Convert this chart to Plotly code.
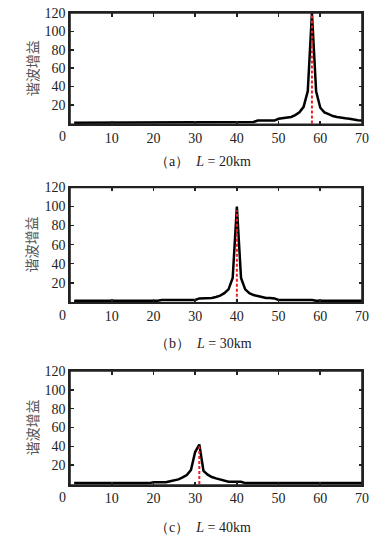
import plotly.graph_objects as go

# ---------------- data ----------------
harmonic_order = list(range(1, 71))

gain_20km = ([0.8] * 34 + [1.5] * 10 + [3.0] * 5 +
             [5.0, 5.5, 6.0, 7.0, 9.0, 12.0, 18.0, 35.0, 120.0, 35.0,
              17.0, 12.0, 10.0, 8.0, 7.0, 6.0, 5.5, 5.0, 4.0, 3.5, 3.0])

gain_30km = ([1.0] * 21 + [1.8] * 9 +
             [3.5, 3.5, 3.5, 4.0, 5.0, 6.5, 9.0, 13.0, 25.0, 100.0,
              25.0, 13.0, 9.0, 7.0, 6.0, 5.0, 4.0, 4.0, 3.5] +
             [1.8] * 9 + [1.0] * 12)

gain_40km = ([1.0] * 19 + [2.0] * 4 +
             [3.0, 4.0, 5.0, 7.0, 9.5, 15.0, 34.0, 42.0, 14.0, 10.0,
              7.5, 6.0, 5.0, 3.5, 2.5, 2.5, 2.5, 2.5] +
             [1.0] * 29)

peak_order = [58, 40, 31]
peak_gain = [120, 96, 40]

captions = ["（a）  <i>L</i> = 20km", "（b）  <i>L</i> = 30km", "（c）  <i>L</i> = 40km"]
y_title = "谐波增益"
x_tick_vals = [10, 20, 30, 40, 50, 60, 70]
y_tick_vals = [20, 40, 60, 80, 100, 120]

series = [gain_20km, gain_30km, gain_40km]

# ---------------- layout helpers ----------------
W, H = 392, 541
x_dom = [70 / W, 362 / W]
panels_px = [(13, 124.3), (187.5, 302.7), (371, 485)]
caption_y_px = [161, 343, 527]

SERIF = "Liberation Serif"
CJK = "Noto Sans CJK SC"
FRAME = "#222222"

fig = go.Figure()
layout = dict(
    width=W, height=H, autosize=False,
    margin=dict(l=0, r=0, t=0, b=0, pad=0),
    paper_bgcolor="white", plot_bgcolor="white",
    showlegend=False,
    font=dict(family=SERIF, size=14, color="#222222"),
)
annotations = []
shapes = []

for i, ys in enumerate(series):
    n = i + 1
    xa = "x" if n == 1 else f"x{n}"
    ya = "y" if n == 1 else f"y{n}"
    top, bot = panels_px[i]
    fig.add_trace(go.Scatter(
        x=harmonic_order, y=ys, mode="lines",
        line=dict(color="black", width=2.5),
        xaxis=xa, yaxis=ya, hoverinfo="skip"))
    fig.add_trace(go.Scatter(
        x=[peak_order[i], peak_order[i]], y=[0, peak_gain[i]], mode="lines",
        line=dict(color="#ee2222", width=2, dash="3px,2px"),
        xaxis=xa, yaxis=ya, hoverinfo="skip"))

    axis_common = dict(
        showline=True, linecolor=FRAME, linewidth=1.6, mirror="allticks",
        ticks="inside", ticklen=3.5, tickwidth=1.6, tickcolor=FRAME,
        showgrid=False, zeroline=False, automargin=False,
        tickfont=dict(family=SERIF, size=14, color="#222222"),
    )
    xkey = "xaxis" if n == 1 else f"xaxis{n}"
    ykey = "yaxis" if n == 1 else f"yaxis{n}"
    layout[xkey] = dict(axis_common, domain=x_dom, range=[0, 70],
                        tickmode="array", tickvals=x_tick_vals, anchor=ya)
    layout[ykey] = dict(axis_common, domain=[1 - bot / H, 1 - top / H],
                        range=[-1, 120], tickmode="array",
                        tickvals=y_tick_vals, anchor=xa)

    # frame around the panel
    shapes.append(dict(
        type="rect", xref=f"{xa} domain", yref=f"{ya} domain",
        x0=0, x1=1, y0=0, y1=1, line=dict(color=FRAME, width=1.6),
        fillcolor="rgba(0,0,0,0)", layer="above"))

    # "0" label sits left of the frame as in the reference
    annotations.append(dict(
        x=0, y=1 - (bot + 12.5) / H, xref=xa, yref="paper",
        yanchor="middle", xanchor="center",
        text="0", showarrow=False, xshift=-8,
        font=dict(family=SERIF, size=14, color="#222222")))

    annotations.append(dict(
        x=31.5 / W, y=1 - (top + bot) / 2 / H, xref="paper", yref="paper",
        text=y_title, showarrow=False, textangle=-90,
        xanchor="center", yanchor="middle",
        font=dict(family=CJK, size=14, color="#555555")))
    annotations.append(dict(
        x=203 / W, y=1 - caption_y_px[i] / H, xref="paper", yref="paper",
        text=captions[i], showarrow=False, xanchor="center", yanchor="middle",
        font=dict(family=SERIF, size=14, color="#222222")))

layout["annotations"] = annotations
layout["shapes"] = shapes
fig.update_layout(**layout)
fig.write_html(
    "out.html",
    config={"displayModeBar": False, "staticPlot": True},
    post_script="document.body.style.margin='0';document.body.style.padding='0';",
)
